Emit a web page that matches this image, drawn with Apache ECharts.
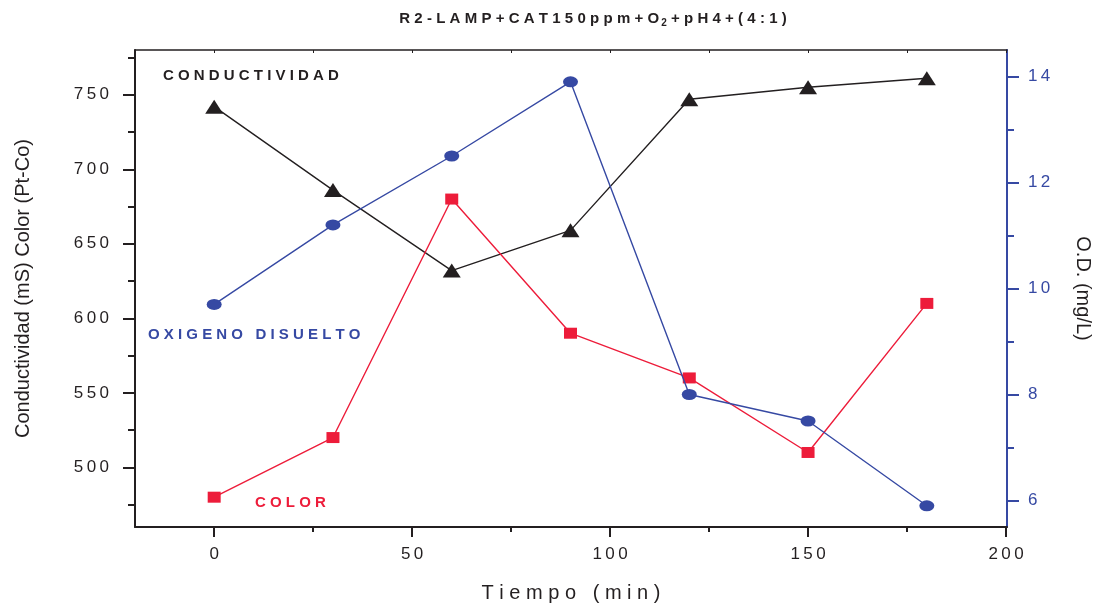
<!DOCTYPE html>
<html>
<head>
<meta charset="utf-8">
<script src="https://cdn.jsdelivr.net/npm/echarts@6/dist/echarts.min.js"></script>
<style>
  html, body { margin: 0; padding: 0; background: #fff; }
  #chart { width: 1096px; height: 604px; }
</style>
</head>
<body>
<div id="chart"></div>
<script>
// Sampling times (min)
const tiempo = [0, 30, 60, 90, 120, 150, 180];
// Conductividad (mS)
const conductividad = [742, 686, 632, 659, 747, 755, 761];
// Color (Pt-Co)
const color = [480, 520, 680, 590, 560, 510, 610];
// Oxígeno disuelto (mg/L)
const oxigeno = [9.7, 11.2, 12.5, 13.9, 8.0, 7.5, 5.9];

// Axis tick positions
const xMajor = [0, 50, 100, 150, 200];
const xMinor = [25, 75, 125, 175];
const yLeftMajor = [500, 550, 600, 650, 700, 750];
const yLeftMinor = [475, 525, 575, 625, 675, 725, 775];
const yRightMajor = [6, 8, 10, 12, 14];
const yRightMinor = [7, 9, 11, 13];

const BLACK = '#231f20';
const RED = '#ed1c3a';
const BLUE = '#3649a3';
const FONT = '"Liberation Sans", Arial, Helvetica, sans-serif';

// widen letter spacing
const spaced = (s, sep = '\u2009') => String(s).split('').join(sep);
const pairs = (ys) => tiempo.map((t, i) => [t, ys[i]]);

const chart = echarts.init(document.getElementById('chart'), null, { renderer: 'canvas' });

const xBase = { type: 'value', min: -20, max: 200.25, gridIndex: 0, splitLine: { show: false } };
const yLeftBase = { type: 'value', min: 460, max: 780, position: 'left', splitLine: { show: false } };
const yRightBase = { type: 'value', min: 5.5, max: 14.5, position: 'right', splitLine: { show: false } };

const TSEP = '\u2009\u200a';

const option = {
  backgroundColor: '#fff',
  animation: false,
  title: {
    text: '{a|' + spaced('R2-LAMP+CAT150ppm+O', TSEP) + '}{s|2}{a|' + TSEP + spaced('+pH4+(4:1)', TSEP) + '}',
    left: 588, top: 4, textAlign: 'center',
    textStyle: {
      rich: {
        a: { fontFamily: FONT, fontSize: 15, fontWeight: 'bold', color: BLACK },
        s: { fontFamily: FONT, fontSize: 10, fontWeight: 'bold', color: BLACK, padding: [9, 0, 0, 2] }
      }
    }
  },
  grid: { left: 135, right: 89, top: 50, bottom: 77, containLabel: false, outerBoundsMode: 'none' },
  xAxis: [
    Object.assign({}, xBase, {
      position: 'bottom',
      name: spaced('Tiempo (min)', ' '),
      nameLocation: 'middle', nameGap: 56,
      nameTextStyle: { fontFamily: FONT, fontSize: 20, color: BLACK },
      axisLine: { show: true, onZero: false, lineStyle: { color: BLACK, width: 2 } },
      axisTick: { show: true, inside: false, length: 10, customValues: xMajor, lineStyle: { color: BLACK, width: 2 } },
      axisLabel: { show: true, customValues: xMajor, margin: 19, fontFamily: FONT, fontSize: 17, color: BLACK,
        formatter: v => spaced(v) }
    }),
    Object.assign({}, xBase, {
      position: 'bottom',
      axisLine: { show: false, onZero: false },
      axisTick: { show: true, inside: false, length: 5, customValues: xMinor, lineStyle: { color: BLACK, width: 2 } },
      axisLabel: { show: false }
    }),
    Object.assign({}, xBase, {
      position: 'top',
      axisLine: { show: true, onZero: false, lineStyle: { color: BLACK, width: 1.5 } },
      axisTick: { show: true, inside: true, length: 3, customValues: xMajor.concat(xMinor), lineStyle: { color: BLACK, width: 1 } },
      axisLabel: { show: false }
    })
  ],
  yAxis: [
    Object.assign({}, yLeftBase, {
      name: 'Conductividad (mS) Color (Pt-Co)',
      nameLocation: 'middle', nameGap: 102, nameRotate: 90,
      nameTextStyle: { fontFamily: FONT, fontSize: 20, color: BLACK },
      axisLine: { show: true, onZero: false, lineStyle: { color: BLACK, width: 2 } },
      axisTick: { show: true, inside: false, length: 12, customValues: yLeftMajor, lineStyle: { color: BLACK, width: 2 } },
      axisLabel: { show: true, customValues: yLeftMajor, margin: 26, fontFamily: FONT, fontSize: 17, color: BLACK,
        formatter: v => spaced(v) }
    }),
    Object.assign({}, yLeftBase, {
      axisLine: { show: false, onZero: false },
      axisTick: { show: true, inside: false, length: 7, customValues: yLeftMinor, lineStyle: { color: BLACK, width: 2 } },
      axisLabel: { show: false }
    }),
    Object.assign({}, yRightBase, {
      name: 'O.D. (mg/L)',
      nameLocation: 'middle', nameGap: 66, nameRotate: -90,
      nameTextStyle: { fontFamily: FONT, fontSize: 20, color: BLACK },
      axisLine: { show: true, onZero: false, lineStyle: { color: BLUE, width: 2 } },
      axisTick: { show: true, inside: false, length: 12, customValues: yRightMajor, lineStyle: { color: BLUE, width: 2 } },
      axisLabel: { show: true, customValues: yRightMajor, margin: 21, fontFamily: FONT, fontSize: 17, color: BLUE,
        formatter: v => spaced(v) }
    }),
    Object.assign({}, yRightBase, {
      axisLine: { show: false, onZero: false },
      axisTick: { show: true, inside: false, length: 7, customValues: yRightMinor, lineStyle: { color: BLUE, width: 2 } },
      axisLabel: { show: false }
    })
  ],
  series: [
    {
      name: 'Conductividad', type: 'line', xAxisIndex: 0, yAxisIndex: 0,
      data: pairs(conductividad),
      symbol: 'triangle', symbolSize: [18, 14],
      lineStyle: { color: BLACK, width: 1.4 },
      itemStyle: { color: BLACK },
      z: 3
    },
    {
      name: 'Color', type: 'line', xAxisIndex: 0, yAxisIndex: 0,
      data: pairs(color),
      symbol: 'rect', symbolSize: [13, 11],
      lineStyle: { color: RED, width: 1.4 },
      itemStyle: { color: RED },
      z: 4
    },
    {
      name: 'Oxígeno disuelto', type: 'line', xAxisIndex: 0, yAxisIndex: 2,
      data: pairs(oxigeno),
      symbol: 'circle', symbolSize: [15, 11],
      lineStyle: { color: BLUE, width: 1.4 },
      itemStyle: { color: BLUE },
      z: 5
    }
  ],
  graphic: [
    { type: 'text', left: 163, top: 68,
      style: { text: spaced('CONDUCTIVIDAD', ' '), fontFamily: FONT, fontSize: 15, fontWeight: 'bold', fill: BLACK } },
    { type: 'text', left: 148, top: 327,
      style: { text: spaced('OXIGENO DISUELTO', ' '), fontFamily: FONT, fontSize: 15, fontWeight: 'bold', fill: BLUE } },
    { type: 'text', left: 255, top: 495,
      style: { text: spaced('COLOR', ' '), fontFamily: FONT, fontSize: 15, fontWeight: 'bold', fill: RED } }
  ]
};

chart.setOption(option);
</script>
</body>
</html>
